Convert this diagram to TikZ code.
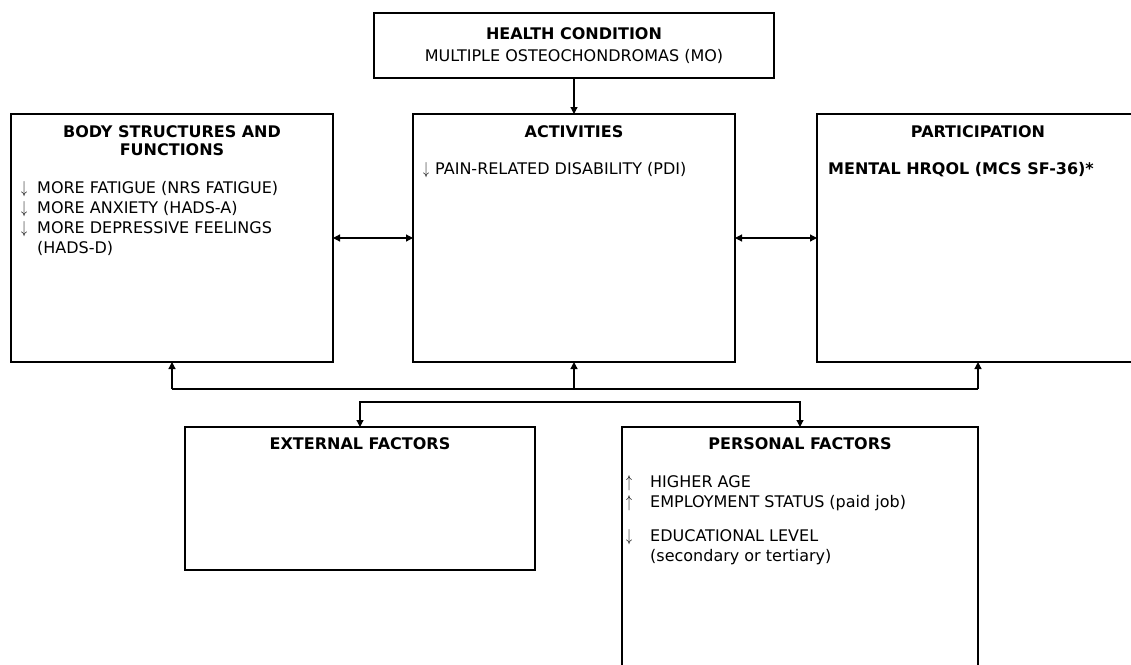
\documentclass[tikz,border=0pt]{standalone}
\usepackage{fontspec}
\setmainfont{DejaVu Sans}
\usetikzlibrary{positioning,arrows.meta}

\newcommand{\dnmark}[1][16pt]{\makebox[#1][l]{\scalebox{0.7}[1]{$\downarrow$}}}
\newcommand{\upmark}[1][16pt]{\makebox[#1][l]{\scalebox{0.7}[1]{$\uparrow$}}}
\newcommand{\indentmark}[1][16pt]{\hspace*{#1}}

\begin{document}
\begin{tikzpicture}[
    x=1pt, y=-1pt,
    box/.style={rectangle, draw, line width=2pt, minimum width=322pt, minimum height=248pt, inner sep=0pt, outer sep=0pt},
    boxtitle/.style={inner sep=0pt, align=center, font=\fontsize{16}{18}\selectfont\bfseries},
    boxlist/.style={inner sep=0pt, align=left, font=\fontsize{16}{20}\selectfont},
    link/.style={line width=1.2pt, -{Triangle[length=7pt,width=7pt]}},
    dlink/.style={line width=1.2pt, {Triangle[length=7pt,width=7pt]}-{Triangle[length=7pt,width=7pt]}}
]
    \useasboundingbox (0,0) rectangle (1131,664);

    % Health condition
    \node[box, minimum width=400pt, minimum height=65pt, align=center, font=\fontsize{16}{22}\selectfont] (health) at (574,45.5) {\textbf{HEALTH CONDITION}\\MULTIPLE OSTEOCHONDROMAS (MO)};

    % Body, activities, participation
    \node[box] (body) at (172,238) {};
    \node[box] (act) at (574,238) {};
    \node[box] (part) at (978,238) {};
    \node[boxtitle, below=11pt of body.north] (bodyT) {BODY STRUCTURES AND\\FUNCTIONS};
    \node[boxtitle, below=11pt of act.north] (actT) {ACTIVITIES};
    \node[boxtitle, below=11pt of part.north] (partT) {PARTICIPATION};
    \node[boxlist, below right=67pt and 10pt of body.north west] (bodyL) {\dnmark MORE FATIGUE (NRS FATIGUE)\\ \dnmark MORE ANXIETY (HADS-A)\\ \dnmark MORE DEPRESSIVE FEELINGS\\ \indentmark (HADS-D)};
    \node[boxlist, below right=48pt and 10pt of act.north west] (actL) {\dnmark[12pt]PAIN-RELATED DISABILITY (PDI)};
    \node[boxlist, below right=48pt and 11pt of part.north west, font=\fontsize{16}{20}\selectfont\bfseries] (partL) {MENTAL HRQOL (MCS SF-36)*};
    \draw[link] (health.south) -- (act.north);
    \draw[dlink] (body.east) -- (act.west);
    \draw[dlink] (act.east) -- (part.west);

    % External and personal factors
    \node[box, minimum width=350pt, minimum height=143pt] (ext) at (360,498.5) {};
    \node[box, minimum width=356pt, minimum height=250pt] (pers) at (800,552) {};
    \node[boxtitle, below=10pt of ext.north] (extT) {EXTERNAL FACTORS};
    \node[boxtitle, below=10pt of pers.north] (persT) {PERSONAL FACTORS};
    \node[boxlist, below right=48pt and 4pt of pers.north west] (persL) {\upmark[24pt]HIGHER AGE\\ \upmark[24pt]EMPLOYMENT STATUS (paid job)\\[14pt] \dnmark[24pt]EDUCATIONAL LEVEL\\ \indentmark[24pt](secondary or tertiary)};

    % Links between the two rows
    \coordinate (upbus) at (0,389);
    \coordinate (dnbus) at (0,402);
    \draw[line width=1.2pt] (body.south |- upbus) -- (part.south |- upbus);
    \draw[link] (body.south |- upbus) -- (body.south);
    \draw[link] (act.south |- upbus) -- (act.south);
    \draw[link] (part.south |- upbus) -- (part.south);
    \draw[dlink] (ext.north) -- (ext.north |- dnbus) -- (pers.north |- dnbus) -- (pers.north);
\end{tikzpicture}
\end{document}
